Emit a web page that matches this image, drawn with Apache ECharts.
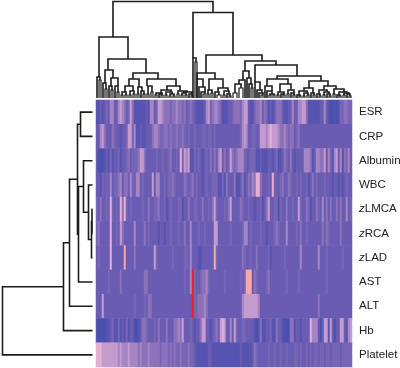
<!DOCTYPE html>
<html><head><meta charset="utf-8">
<style>html,body{margin:0;padding:0;background:#fff}#c{width:400px;height:368px}</style>
<script src="https://cdn.jsdelivr.net/npm/echarts@6/dist/echarts.min.js"></script>
</head><body><div id="c"></div>
<script>
var rowNames = ["ESR","CRP","Albumin","WBC","zLMCA","zRCA","zLAD","AST","ALT","Hb","Platelet"];
var ESR = [2,2,3,2,3,4,3,6,6,3, 3,6,7,6,5,3,4,7,5,2, 2,2,2,2,2,3,2,6,6,3, 4,7,7,6,5,5,5,4,5,5, 6,5,5,4,5,3,4,5,4,3, 2,2,2,2,3,6,7,4,5,6, 6,5,4,2,2,2,3,3,4,5, 5,5,4,6,7,7,3,2,2,4, 5,5,6,3,5,4,2,3,2,3, 5,5,5,3,2,2,3,3,6,3, 3,6,6,7,7,5,2,2,2,2, 2,2,3,3,6,3,2,1,1,2, 1,2,4,4,5,5,4,4];
var CRP = [3,3,6,7,5,3,3,3,5,4, 3,3,2,3,3,4,7,7,4,6, 2,2,3,2,2,3,3,3,5,6, 6,5,4,4,5,5,4,5,4,4, 5,4,4,5,4,3,4,3,3,4, 3,3,3,4,4,3,4,4,3,4, 3,3,3,3,3,3,3,3,3,3, 3,3,4,6,7,6,3,3,4,4, 3,3,7,7,7,6,7,8,7,7, 7,6,5,5,6,5,4,5,5,3, 4,5,3,3,3,3,3,3,3,3, 3,3,3,3,3,3,3,3,3,3, 3,3,3,3,3,3,3,3];
var Albumin = [3,1,1,1,2,3,2,4,2,3, 3,4,2,3,3,4,5,3,4,4, 4,5,7,7,5,3,3,3,3,3, 4,3,3,4,3,3,4,5,3,3, 4,3,8,4,7,6,7,2,2,4, 3,4,3,2,3,4,3,5,3,5, 3,6,7,3,5,3,4,7,5,4, 5,6,6,6,4,3,3,4,4,4, 2,2,3,2,2,2,3,3,2,3, 4,2,2,3,5,4,3,5,3,2, 3,3,3,3,6,6,6,5,2,3, 6,6,5,5,7,3,6,4,2,6, 7,3,6,2,5,4,6,3];
var WBC = [3,3,2,4,3,4,3,6,3,4, 4,5,6,3,5,5,3,6,4,3, 6,6,3,4,3,3,3,3,7,3, 6,6,3,3,4,3,4,4,5,4, 3,3,3,3,5,4,3,4,5,3, 4,3,3,2,3,4,3,3,4,4, 4,2,2,4,2,5,3,3,3,5, 2,2,3,5,2,3,5,4,6,5, 8,8,5,3,3,3,4,3,8,4, 3,3,4,5,3,3,5,4,3,3, 4,3,4,3,3,4,2,3,5,3, 4,3,3,3,4,3,3,3,2,3, 3,2,3,2,3,4,3,3];
var zLMCA = [4,3,5,3,3,4,3,8,4,3, 4,3,8,5,8,4,3,4,3,3, 3,3,3,4,3,3,5,3,3,4, 4,5,3,3,4,2,3,4,3,3, 3,4,4,2,3,3,5,3,3,4, 4,3,3,5,3,3,4,3,5,7, 4,3,3,3,4,3,5,7,3,3, 3,3,5,4,3,3,4,3,3,2, 3,3,4,2,3,5,7,3,3,4, 4,2,4,3,3,5,3,3,4,3, 3,7,4,3,3,5,4,2,3,3, 5,4,3,6,3,5,3,5,3,3, 5,3,5,3,3,6,3,4];
var zRCA = [4,5,3,3,3,3,3,8,3,3, 4,3,7,5,3,3,3,3,3,6, 3,3,3,3,5,3,4,3,3,3, 3,2,3,3,2,3,3,4,3,3, 3,4,3,3,5,3,3,6,3,3, 3,4,3,3,4,3,3,3,3,7, 7,3,3,3,3,3,3,4,3,3, 3,3,3,4,6,6,3,4,3,3, 3,3,4,3,3,2,3,3,3,4, 5,4,3,3,3,6,3,3,3,3, 4,3,5,3,3,4,3,3,3,3, 3,3,3,5,3,5,4,3,3,3, 3,3,5,3,3,3,3,3];
var zLAD = [3,4,3,3,3,3,3,8,3,3, 3,3,3,3,9,3,3,3,3,5, 3,3,3,3,3,3,3,3,3,7, 4,3,3,3,3,3,3,3,4,3, 3,3,3,3,4,4,3,6,3,3, 3,2,2,3,3,3,3,3,3,9, 4,3,3,3,3,3,3,3,3,3, 3,3,3,5,4,3,3,4,3,3, 5,3,3,3,3,3,4,2,3,3, 3,3,3,3,4,3,3,3,3,3, 3,3,6,3,3,3,3,3,3,3, 3,6,3,3,3,4,3,3,3,3, 3,3,3,4,3,3,3,3];
var AST = [3,3,3,3,3,3,4,3,3,3, 3,3,5,3,3,3,3,3,3,3, 3,3,3,3,5,5,3,3,3,3, 3,3,3,3,3,3,3,3,3,3, 3,3,3,3,4,3,3,6,10,4, 3,3,4,5,5,6,4,3,3,3, 3,3,3,3,4,3,3,3,3,3, 3,3,4,3,4,9,9,9,3,5, 4,3,3,3,3,4,5,3,3,3, 3,3,3,3,3,4,3,3,3,3, 3,4,3,3,3,3,3,3,3,3, 3,3,3,3,3,4,3,3,3,3, 3,3,3,3,3,3,3,3];
var ALT = [3,3,3,7,3,3,3,3,3,3, 3,3,3,3,3,3,3,3,3,4, 3,3,3,3,4,3,5,5,3,3, 3,3,3,3,3,3,3,3,3,3, 3,3,3,3,3,3,3,3,10,4, 4,5,5,5,6,5,3,3,3,3, 3,3,3,3,3,3,3,3,3,3, 3,3,3,6,7,7,7,7,7,7, 7,6,3,3,3,3,3,3,3,3, 3,3,3,3,3,3,3,3,3,3, 3,3,3,3,3,3,3,3,3,3, 3,5,3,3,3,3,3,3,3,3, 3,3,3,3,3,3,3,3];
var Hb = [2,1,1,1,1,2,2,3,4,2, 2,4,2,3,2,4,2,3,3,1, 1,2,3,5,5,4,3,3,3,4, 3,5,3,3,3,5,3,3,3,5, 5,6,5,7,3,3,3,4,3,2, 3,3,5,7,7,3,3,2,3,4, 5,3,7,8,7,3,3,6,3,7, 4,3,3,4,4,3,3,3,3,2, 1,2,5,2,2,3,3,4,2,2, 5,3,3,2,1,1,1,5,5,2, 3,3,2,3,3,3,3,8,6,6, 6,3,1,3,7,7,2,7,3,1, 3,3,7,7,3,2,6,7];
var Platelet = [8,8,8,7,7,7,7,7,7,7, 7,6,7,6,6,6,7,6,6,6, 6,5,6,5,5,5,6,5,5,5, 5,5,4,5,5,5,4,5,4,5, 4,4,5,4,4,4,5,4,4,3, 2,2,2,2,2,2,3,3,2,2, 2,2,2,2,2,2,2,2,2,2, 2,2,3,2,2,2,2,2,3,5, 4,3,3,3,3,3,4,3,3,4, 3,3,4,3,3,4,3,3,3,4, 4,3,4,3,3,4,3,4,3,4, 4,3,4,4,3,4,4,3,4,4, 4,4,3,4,4,4,4,4];
var rowValues = [ESR,CRP,Albumin,WBC,zLMCA,zRCA,zLAD,AST,ALT,Hb,Platelet];

// column dendrogram: [xLeft, heightLeft, xRight, heightRight, mergeHeight]; x in units of half a leaf
var colUpper = [
[17,61,117,85.5,96.5],[3,21,32,39,61],[12,28,50,25,39],[9,15,17,20,28],[37,19,62,19,25],[33,12,43,11,19],[51,12,80,12,19],
[97,40,137,43,85.5],[110,25,166,37,43],[101,19,119,19,25],[113,8,127,10,19],[149,27,180,33,37],[147,18,153,20,27],
[159,16,201,22,33],[181,19,225,17,22],[171,12,192,14,19],[213,10,232,12,17]
];
var colLower = [
[1,0,4,18,21],[3,0,5,0,18],[7,0,10,9,15],[9,0,11,0,9],[15,12,22,12,20],[13,0,16,8,12],[15,0,17,0,8],[19,0,22,6,12],[21,0,23,0,6],
[29,6,37,7,12],[26,3,30,3,6],[25,0,27,0,3],[29,0,31,0,3],[34,3,38,4,7],[33,0,35,0,3],[37,0,39,0,4],
[42,4,46,7,11],[41,0,43,0,4],[45,0,48,4,7],[47,0,49,0,4],[52,4,56,6,12],[51,0,53,0,4],[55,0,57,0,6],
[71,8,84,7,12],[65,5,75,6,8],[60,3,66,4,5],[59,0,61,0,3],[63,0,66,3,4],[65,0,67,0,3],[70,3,76,4,6],[69,0,71,0,3],[74,2,78,2,4],[73,0,75,0,2],[77,0,79,0,2],
[82,4,91,6,7],[81,0,83,0,4],[88,5,96,4,6],[86,3,90,3,5],[85,0,87,0,3],[89,0,91,0,3],[93,0,96,2,4],[95,0,97,0,2],
[97,0,100,36,40],[99,0,101,0,36],[101,0,107,11,19],[103,0,109,6,11],[105,0,109,4,6],[107,0,109,0,4],
[112,4,116,5,8],[111,0,113,0,4],[115,0,117,0,5],[122,6,132,7,10],[119,0,123,3,6],[121,0,125,0,3],[128,3,133,4,7],[127,0,129,0,3],[131,0,134,2,4],[133,0,135,0,2],
[143,14,149,0,18],[139,5,145,10,14],[137,0,141,0,5],[143,0,147,0,10],[151,0,155,14,20],[153,0,156,10,14],[155,0,157,0,10],
[159,0,164,8,16],[161,0,166,5,8],[163,0,167,3,5],[165,0,167,0,3],
[169,0,176,7,12],[171,0,176,4,7],[174,3,178,3,4],[173,0,175,0,3],[177,0,179,0,3],
[184,6,195,8,14],[182,3,188,4,6],[181,0,183,0,3],[185,0,188,3,4],[187,0,189,0,3],[192,4,198,5,8],[191,0,193,0,4],[195,0,198,3,5],[197,0,199,0,3],
[208,7,217,5,10],[203,3,211,5,7],[201,0,204,2,3],[203,0,205,0,2],[208,2,212,3,5],[207,0,209,0,2],[211,0,213,0,3],[215,0,218,3,5],[217,0,219,0,3],
[228,8,240,9,12],[223,4,231,6,8],[221,0,224,2,4],[223,0,225,0,2],[228,3,233,4,6],[227,0,229,0,3],[231,0,234,2,4],[233,0,235,0,2],
[238,4,248,6,9],[237,0,239,0,4],[243,3,251,5,6],[241,0,244,2,3],[243,0,245,0,2],[248,3,253,4,5],[247,0,249,0,3],[251,0,254,2,4],[253,0,255,0,2]
];
// row dendrogram: [mergeHeight, child, child]; a bare number is the row index
var rowTree = [90,[29,[23,[15,[12,0,1],[14,[9,2,[4,3,[1,[0.5,4,5],6]]],7]],8],9],10];

var rowLinks = [];
(function walk(n){
  if (typeof n === 'number') return {y:n+0.5,h:0};
  var a = walk(n[1]), b = walk(n[2]);
  rowLinks.push([a.h,a.y,b.h,b.y,n[0]]);
  return {y:(a.y+b.y)/2,h:n[0]};
})(rowTree);

var heat = [];
rowValues.forEach(function(vals,r){vals.forEach(function(v,c){heat.push([c,r,v]);});});
var cols = ESR.map(function(_,i){return i;});
var ink = '#1c1c1c';

function colItem(p,api){
  var x1=api.value(0),h1=api.value(1),x2=api.value(2),h2=api.value(3),t=api.value(4);
  var pts=[[x1,h1],[x1,t],[x2,t],[x2,h2]].map(function(q){return api.coord(q);});
  return {type:'polyline',shape:{points:pts},style:{stroke:ink,fill:null,lineWidth:h1===0&&h2===0?1.2:1.6}};
}
function rowItem(p,api){
  var h1=api.value(0),y1=api.value(1),h2=api.value(2),y2=api.value(3),t=api.value(4);
  var pts=[[h1,y1],[t,y1],[t,y2],[h2,y2]].map(function(q){return api.coord(q);});
  return {type:'polyline',shape:{points:pts},style:{stroke:ink,fill:null,lineWidth:1.6}};
}

var chart = echarts.init(document.getElementById('c'),null,{renderer:'canvas'});
chart.setOption({
  animation:false,
  backgroundColor:'#fff',
  textStyle:{fontFamily:'"Liberation Sans",Arial,sans-serif'},
  grid:[
    {left:96,top:100,width:256,height:267,outerBoundsMode:'none'},
    {left:96,top:0,width:256,height:98,outerBoundsMode:'none'},
    {left:0,top:100,width:92.5,height:267,outerBoundsMode:'none'}
  ],
  xAxis:[
    {type:'category',gridIndex:0,data:cols,show:false},
    {type:'value',gridIndex:1,min:0,max:256,show:false},
    {type:'value',gridIndex:2,min:0,max:92.5,inverse:true,show:false}
  ],
  yAxis:[
    {type:'category',gridIndex:0,data:rowNames,inverse:true,position:'right',
     axisLine:{show:false},axisTick:{show:false},splitLine:{show:false},
     axisLabel:{margin:7,fontSize:11.5,color:'#222',hideOverlap:false,fontFamily:'"Liberation Sans",Arial,sans-serif',
       formatter:function(v){return v.charAt(0)==='z'?'{i|z}{t|'+v.slice(1)+'}':'{t|'+v+'}';},
       rich:{i:{fontStyle:'italic',fontSize:11.5,color:'#222',fontFamily:'"Liberation Sans",Arial,sans-serif'},
             t:{fontSize:11.5,color:'#222',fontFamily:'"Liberation Sans",Arial,sans-serif'}}}},
    {type:'value',gridIndex:1,min:0,max:98,show:false},
    {type:'value',gridIndex:2,min:0,max:11,inverse:true,show:false}
  ],
  visualMap:{show:false,min:0,max:10,seriesIndex:0,dimension:2,
    inRange:{color:['#4048a8','#4a50ad','#5654b0','#6a5cb2','#7766b6','#8c72bb','#a585c3','#c59bce','#e6aed2','#f8a8a8','#f01c28']}},
  series:[
    {type:'heatmap',xAxisIndex:0,yAxisIndex:0,data:heat,silent:true,itemStyle:{borderWidth:0},progressive:0},
    {type:'custom',xAxisIndex:1,yAxisIndex:1,data:colUpper.concat(colLower),renderItem:colItem,silent:true,clip:false},
    {type:'custom',xAxisIndex:2,yAxisIndex:2,data:rowLinks,renderItem:rowItem,silent:true,clip:false}
  ]
});
</script></body></html>
